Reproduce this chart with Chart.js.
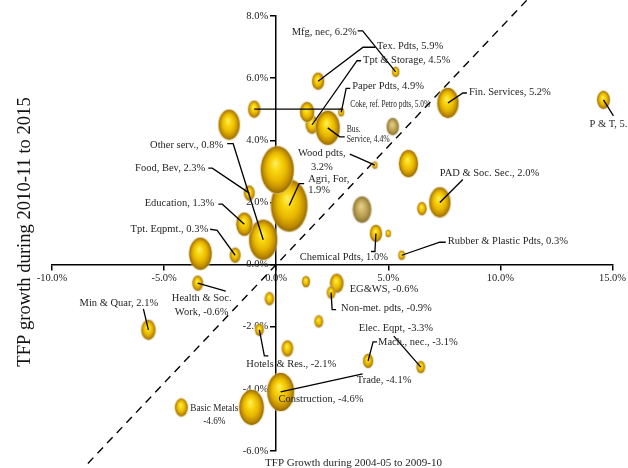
<!DOCTYPE html>
<html>
<head>
<meta charset="utf-8">
<script src="https://cdn.jsdelivr.net/npm/chart.js@4/dist/chart.umd.min.js"></script>
<style>
  html, body { margin: 0; padding: 0; background: #fff; }
  #wrap { width: 628px; height: 468px; }
</style>
</head>
<body>
<div id="wrap"><canvas id="c" width="628" height="468"></canvas></div>
<script>
// Sector labels (as printed next to each bubble); blank = unlabelled bubble
const sectorLabels = [
  'Mfg, nec, 6.2%', 'Tex. Pdts, 5.9%', 'Tpt & Storage, 4.5%', 'Paper Pdts, 4.9%',
  'Coke, ref. Petro pdts, 5.0%', 'Bus.\nService, 4.4%', 'Wood pdts,\n3.2%', 'Agri, For,\n1.9%',
  'Other serv., 0.8%', 'Food, Bev, 2.3%', 'Education, 1.3%', 'Tpt. Eqpmt., 0.3%',
  'PAD & Soc. Sec., 2.0%', 'Chemical Pdts, 1.0%', 'Rubber & Plastic Pdts, 0.3%', 'Fin. Services, 5.2%',
  'P & T, 5.3%', 'Health & Soc.\nWork, -0.6%', 'Min & Quar, 2.1%', 'EG&WS, -0.6%',
  'Non-met. pdts, -0.9%', 'Elec. Eqpt, -3.3%', 'Mach., nec., -3.1%', 'Hotels & Res., -2.1%',
  'Trade, -4.1%', 'Construction, -4.6%', 'Basic Metals\n-4.6%',
  '', '', '', '', '', '', '', '', '', '', '', '', ''
];

// TFP growth 2004-05 to 2009-10 (%)
const growthEarly = [
  5.33, 1.87, 1.6, 2.9, -0.98, 2.3, 4.4, 0.58,
  -0.58, -1.2, -1.42, -1.83, 7.3, 4.45, 5.6, 7.66,
  14.6, -3.5, -5.7, 2.7, 2.45, 6.45, 4.1, -0.75,
  0.2, -1.1, -4.23,
  1.38, 0.05, -3.38, -2.1, 5.2, 5.9, 6.5, 3.83, 5.0, -0.3, 1.33, 1.9, 0.5
];

// TFP growth 2010-11 to 2015 (%)
const growthLate = [
  6.2, 5.9, 4.5, 4.9, 5.0, 4.4, 3.2, 1.9,
  0.8, 2.3, 1.3, 0.3, 2.0, 1.0, 0.3, 5.2,
  5.3, -0.6, -2.1, -0.6, -0.9, -3.3, -3.1, -2.1,
  -4.1, -4.6, -4.6,
  4.91, 3.05, 0.35, 4.5, 4.44, 3.25, 1.8, 1.77, 1.0, -1.1, -0.55, -1.83, -2.7
];

// Bubble size (weight of the sector)
const bubbleSize = [
  5, 8.5, 9, 4, 8.5, 17, 3.5, 26,
  20, 7.5, 11.5, 7.5, 15, 8.5, 4.5, 15,
  9, 7.5, 10, 9.5, 6, 6, 7, 6,
  19, 17.5, 9,
  10, 23.5, 16, 15, 8.5, 13.5, 6.5, 13, 3.5, 6.5, 5.5, 6, 8
];

// Bubble colouring group
const bubbleTone = sectorLabels.map((_, i) => (i === 31 || i === 34) ? 'khaki' : 'gold');

const xTickValues = [-10, -5, 0, 5, 10, 15];
const yTickValues = [-6, -4, -2, 0, 2, 4, 6, 8];

// Reference diagonal
const diagonalX = [-8.4, 11.3];
const diagonalY = [-6.4, 8.6];

const xTitle = 'TFP Growth during 2004-05 to 2009-10';
const yTitle = 'TFP growth during 2010-11 to 2015';

// Label placement relative to the bubble centre (pixels), with leader-line bends
const labelLayout = [
  { at: [-39, -40], align: 'right', leader: [[-33, -41], [-38, -41]] },
  { at: [59, -35], align: 'left', leader: [[45, -34], [57, -34]] },
  { at: [51, -65], align: 'left', leader: [[45, -64], [49, -64]] },
  { at: [11, -26], align: 'left', leader: [[5, -24], [9, -24]] },
  { at: [96, -5], align: 'left', leader: [[89, 0]], fit: 80 },
  { at: [19, 1], align: 'left', gap: 10, leader: [[12, 9], [17, 9]], fit: 43 },
  { at: [-53, -12], align: 'center', gap: 14, leader: [[-18, -8], [-25, -11]] },
  { at: [19, -26], align: 'left', gap: 11, leader: [[10, -22], [15, -22]] },
  { at: [-40, -94], align: 'right', leader: [[-30, -96], [-36, -96]] },
  { at: [-44, -25], align: 'right', leader: [[-37, -25], [-41, -25]] },
  { at: [-30, -21], align: 'right', leader: [[-22, -20], [-26, -20]] },
  { at: [-27, -26], align: 'right', leader: [[-18, -25], [-25, -26]] },
  { at: [0, -29], align: 'left', leader: [[23, -23]] },
  { at: [12, 24], align: 'right', leader: [[-1, 18], [-5, 18]] },
  { at: [46, -14], align: 'left', leader: [[38, -13], [44, -13]] },
  { at: [21, -11], align: 'left', leader: [[15, -10], [19, -10]] },
  { at: [-14, 24], align: 'left', leader: [[10, 16]] },
  { at: [4, 15], align: 'center', gap: 14, leader: [[28, 8]] },
  { at: [-29.5, -27], align: 'center', leader: [[-5, -21]] },
  { at: [13, 6], align: 'left' },
  { at: [10, 16], align: 'left', leader: [[1, 17], [5, 17]] },
  { at: [-62, -39], align: 'left', leader: [[-27, -31]] },
  { at: [10, -19], align: 'left', leader: [[5, -19], [9, -19]] },
  { at: [-13, 34], align: 'left', leader: [[5, 26], [9, 26]] },
  { at: [76, -12], align: 'left', leader: [[82, -18]] },
  { at: [27, -8], align: 'left' },
  { at: [33, 1], align: 'center', gap: 13, fit: 48 }
];

const SERIF = '"Liberation Serif", "DejaVu Serif", serif';

// Shaded golden ellipsoid used as the point style of each bubble
function bubbleImage(r, tone) {
  const ry = r, rx = r * 0.7, pad = 2;
  const cv = document.createElement('canvas');
  cv.width = Math.ceil(2 * rx + 2 * pad);
  cv.height = Math.ceil(2 * ry + 2 * pad);
  const g = cv.getContext('2d');
  const cx = cv.width / 2, cy = cv.height / 2;
  g.beginPath();
  g.ellipse(cx, cy, rx + 1, ry + 1, 0, 0, Math.PI * 2);
  g.fillStyle = tone === 'khaki' ? 'rgba(205,190,150,0.6)' : 'rgba(228,205,150,0.6)';
  g.fill();
  g.save();
  g.translate(cx, cy);
  g.scale(1, ry / rx);
  const grad = g.createRadialGradient(-0.12 * rx, -0.3 * rx, 0, 0, 0, rx);
  const stops = tone === 'khaki'
    ? [[0, '#E4D390'], [0.4, '#CDB466'], [0.8, '#A88F45'], [1, '#857030']]
    : [[0, '#FFF06A'], [0.28, '#FAD812'], [0.6, '#E8B800'], [0.85, '#C08C00'], [1, '#946A00']];
  stops.forEach(([o, c]) => grad.addColorStop(o, c));
  g.beginPath();
  g.arc(0, 0, rx, 0, Math.PI * 2);
  g.fillStyle = grad;
  g.fill();
  g.restore();
  return cv;
}

const bubblePoints = growthEarly.map((x, i) => ({ x, y: growthLate[i], r: bubbleSize[i] }));
const bubbleStyles = bubbleSize.map((r, i) => bubbleImage(r, bubbleTone[i]));
const diagonalPoints = diagonalX.map((x, i) => ({ x, y: diagonalY[i] }));
const pct = v => Number(v).toFixed(1) + '%';

// Y tick labels sit a little left of the centred vertical axis, beneath the bubbles
const yTickText = {
  id: 'yTickText',
  beforeDatasetsDraw(chart) {
    const ctx = chart.ctx;
    const xs = chart.scales.x, ys = chart.scales.y;
    const ax = xs.getPixelForValue(0);
    ctx.save();
    ctx.font = '10.5px ' + SERIF;
    ctx.fillStyle = '#222';
    ctx.textAlign = 'right';
    ctx.textBaseline = 'middle';
    yTickValues.forEach(v => ctx.fillText(pct(v), ax - 8, ys.getPixelForValue(v)));
    ctx.restore();
  }
};

// Leader lines, sector labels and axis titles
const annotate = {
  id: 'annotate',
  afterDatasetsDraw(chart) {
    const ctx = chart.ctx;
    const meta = chart.getDatasetMeta(1);
    ctx.save();
    ctx.strokeStyle = '#000';
    ctx.lineWidth = 1.3;
    labelLayout.forEach((L, i) => {
      if (!L || !L.leader) return;
      const p = meta.data[i];
      ctx.beginPath();
      ctx.moveTo(p.x, p.y);
      L.leader.forEach(([dx, dy]) => ctx.lineTo(p.x + dx, p.y + dy));
      ctx.stroke();
    });
    ctx.fillStyle = '#1e1e1e';
    ctx.textBaseline = 'middle';
    ctx.font = '10.5px ' + SERIF;
    labelLayout.forEach((L, i) => {
      if (!L) return;
      const p = meta.data[i];
      const lines = sectorLabels[i].split('\n');
      let sx = 1;
      if (L.fit) {
        const widest = Math.max(...lines.map(t => ctx.measureText(t).width));
        sx = L.fit / widest;
      }
      lines.forEach((t, k) => {
        ctx.save();
        ctx.translate(p.x + L.at[0], p.y + L.at[1] + k * (L.gap || 12));
        ctx.scale(sx, 1);
        ctx.textAlign = L.align;
        ctx.fillText(t, 0, 0);
        ctx.restore();
      });
    });
    // axis titles
    const xs = chart.scales.x;
    ctx.textAlign = 'center';
    ctx.font = '11px ' + SERIF;
    ctx.fillText(xTitle, xs.getPixelForValue(3.45), 463);
    ctx.save();
    ctx.translate(25, 232);
    ctx.rotate(-Math.PI / 2);
    ctx.font = '18.6px ' + SERIF;
    ctx.fillStyle = '#111';
    ctx.fillText(yTitle, 0, 0);
    ctx.restore();
    ctx.restore();
  }
};

new Chart(document.getElementById('c'), {
  type: 'bubble',
  data: {
    datasets: [
      {
        type: 'line',
        data: diagonalPoints,
        borderColor: '#000',
        borderWidth: 1.4,
        borderDash: [8, 6],
        pointRadius: 0,
        fill: false,
        clip: false,
        order: 2
      },
      {
        type: 'bubble',
        data: bubblePoints,
        pointStyle: bubbleStyles,
        backgroundColor: '#E8B800',
        borderWidth: 0,
        clip: false,
        order: 1
      }
    ]
  },
  options: {
    responsive: false,
    animation: false,
    devicePixelRatio: 1,
    layout: { autoPadding: false, padding: { left: 52, right: 15, top: 16, bottom: 17 } },
    plugins: { legend: { display: false }, tooltip: { enabled: false } },
    scales: {
      x: {
        type: 'linear',
        position: { y: 0 },
        min: -10, max: 15,
        afterBuildTicks: s => { s.ticks = xTickValues.map(v => ({ value: v })); },
        ticks: { callback: pct, font: { family: SERIF, size: 10.5 }, color: '#222', padding: 2, maxRotation: 0, autoSkip: false },
        grid: { drawOnChartArea: false, drawTicks: true, tickLength: 5, color: '#000', lineWidth: 1.5 },
        border: { color: '#000', width: 1.5 }
      },
      y: {
        type: 'linear',
        position: { x: 0 },
        min: -6, max: 8,
        afterBuildTicks: s => { s.ticks = yTickValues.map(v => ({ value: v })); },
        ticks: { display: false },
        grid: { drawOnChartArea: false, drawTicks: true, tickLength: 5, color: '#000', lineWidth: 1.5 },
        border: { color: '#000', width: 1.5 }
      }
    }
  },
  plugins: [yTickText, annotate]
});
</script>
</body>
</html>
